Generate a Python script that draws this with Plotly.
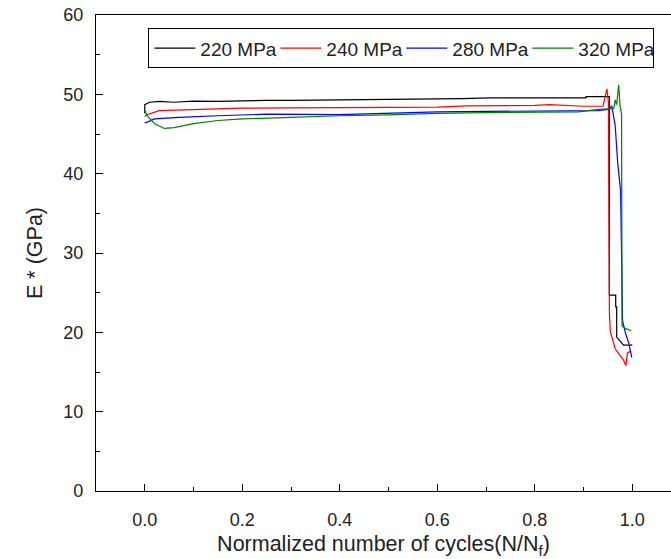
import plotly.graph_objects as go

# E* vs normalized cycles, four stress levels
x_220 = [0.0, 0.0, 0.01, 0.03, 0.06, 0.10, 0.15, 0.20, 0.25, 0.30, 0.40, 0.50, 0.60, 0.65, 0.71,
         0.80, 0.905, 0.905, 0.948, 0.953, 0.953, 0.966, 0.966, 0.968, 0.968, 0.982, 1.0]
e_220 = [47.6, 48.7, 49.0, 49.1, 49.0, 49.15, 49.1, 49.2, 49.25, 49.25, 49.3, 49.35, 49.4, 49.45, 49.55,
         49.55, 49.55, 49.7, 49.7, 49.7, 24.7, 24.7, 23.2, 23.2, 19.4, 18.4, 18.4]

x_240 = [0.0, 0.003, 0.03, 0.06, 0.10, 0.20, 0.30, 0.40, 0.50, 0.60, 0.66, 0.70, 0.80, 0.83, 0.86,
         0.90, 0.94, 0.948, 0.951, 0.953, 0.955, 0.96, 0.965, 0.971, 0.982, 0.987, 0.99, 0.996]
e_240 = [47.2, 47.4, 47.95, 48.0, 48.1, 48.25, 48.3, 48.35, 48.35, 48.4, 48.55, 48.55, 48.6, 48.7, 48.6,
         48.5, 48.5, 50.7, 49.0, 22.4, 20.1, 19.0, 17.9, 17.4, 16.5, 15.8, 17.4, 17.6]

x_280 = [0.0, 0.002, 0.02, 0.07, 0.15, 0.25, 0.40, 0.50, 0.60, 0.70, 0.80, 0.93, 0.95, 0.958,
         0.965, 0.97, 0.976, 0.978, 0.979, 0.980, 0.986, 0.993, 0.999]
e_280 = [46.5, 46.4, 46.9, 47.1, 47.3, 47.5, 47.45, 47.6, 47.8, 47.85, 47.9, 47.95, 48.1, 48.5,
         46.0, 41.4, 37.9, 30.0, 26.0, 21.5, 19.9, 18.6, 16.8]

x_320 = [0.0, 0.005, 0.02, 0.04, 0.06, 0.10, 0.15, 0.20, 0.30, 0.40, 0.50, 0.60, 0.70, 0.80, 0.89,
         0.93, 0.962, 0.965, 0.968, 0.972, 0.975, 0.978, 0.979, 0.985, 0.998]
e_320 = [48.0, 47.3, 46.3, 45.7, 45.8, 46.3, 46.7, 46.9, 47.1, 47.3, 47.4, 47.6, 47.7, 47.75, 47.8,
         48.1, 48.2, 49.3, 48.7, 51.2, 48.5, 47.5, 20.8, 20.5, 20.2]

series = [
    ("220 MPa", x_220, e_220, "black"),
    ("240 MPa", x_240, e_240, "#ff0000"),
    ("280 MPa", x_280, e_280, "#0000ff"),
    ("320 MPa", x_320, e_320, "#008000"),
]

fig = go.Figure()
for name, xs, ys, col in series:
    fig.add_trace(go.Scatter(x=xs, y=ys, mode="lines", name=name,
                             line=dict(color=col, width=1.2)))

font = "Liberation Sans, Arial, sans-serif"

fig.update_layout(
    width=671, height=559,
    margin=dict(l=96, r=0, t=15, b=68),
    paper_bgcolor="white", plot_bgcolor="white",
    font=dict(family=font, color="#222"),
    showlegend=True,
    legend=dict(orientation="h", x=0.091, y=0.972, xanchor="left", yanchor="top",
                bordercolor="black", borderwidth=1, bgcolor="white",
                font=dict(size=19, color="#222"), itemwidth=41,
                entrywidth=70, entrywidthmode="pixels", tracegroupgap=0),
)

fig.update_xaxes(
    range=[-0.1, 1.0794], showgrid=False, zeroline=False, automargin=False,
    showline=True, linecolor="black", linewidth=1.3, mirror=True,
    ticks="inside", ticklen=7, tickcolor="black", tickwidth=1.3,
    tickvals=[0, 0.2, 0.4, 0.6, 0.8, 1.0], ticktext=["0.0", "0.2", "0.4", "0.6", "0.8", "1.0"],
    minor=dict(ticks="inside", ticklen=4, tickcolor="black", dtick=0.1, tick0=0, showgrid=False),
    tickfont=dict(size=18), ticklabelstandoff=12,
    title=dict(text="Normalized number of cycles(N/N<sub>f</sub>)", font=dict(size=21.5), standoff=8),
)
fig.update_yaxes(
    range=[0, 60], showgrid=False, zeroline=False, automargin=False,
    showline=True, linecolor="black", linewidth=1.3, mirror=False,
    ticks="inside", ticklen=7, tickcolor="black", tickwidth=1.3, dtick=10,
    minor=dict(ticks="inside", ticklen=4, tickcolor="black", dtick=5, showgrid=False),
    tickfont=dict(size=18), ticklabelstandoff=8,
    title=dict(text="E * (GPa)", font=dict(size=21.5), standoff=14),
)

# drop the browser's default 8px body margin so the figure sits at the page corner
fig.write_html("out.html", config={"displayModeBar": False},
               post_script="document.body.style.margin='0';")
